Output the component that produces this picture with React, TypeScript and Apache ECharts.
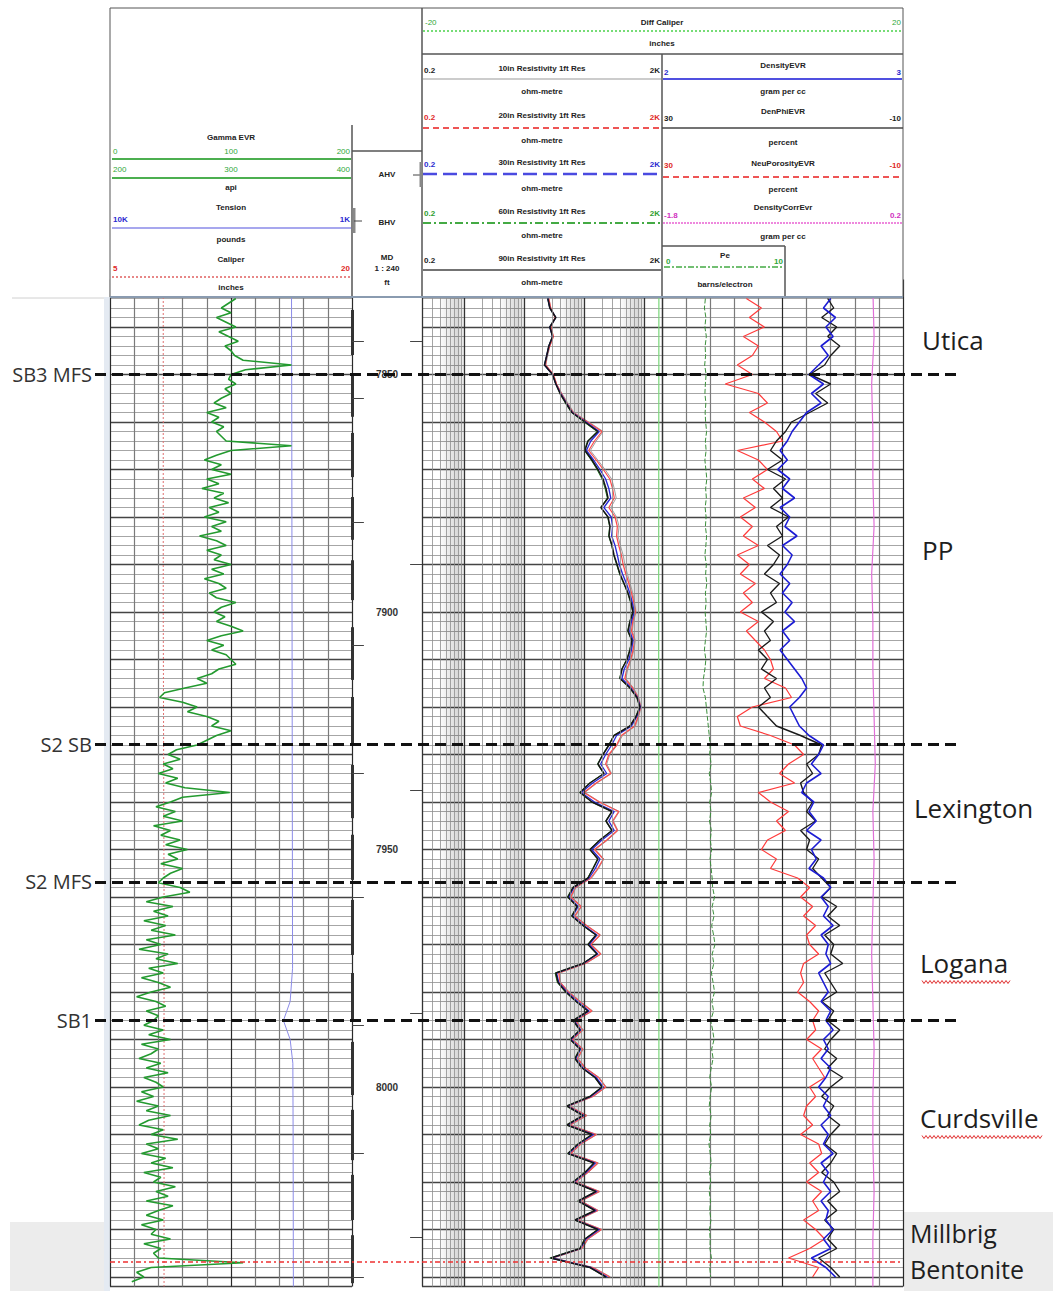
import React, { useEffect, useRef } from "react";
import * as echarts from "echarts";

// ---------------- DATA ----------------
const TOP_DEPTH = 7830;
const BOTTOM_DEPTH = 8042;

// Gamma ray (API), 1 ft step from 7834
const gammaStart = 7834;
const gammaStep = 1;
const gammaApi = [
  104, 98, 92, 100, 88, 96, 104, 90, 98, 106, 95, 100, 103, 110, 150, 112, 100,
  98, 104, 95, 100, 92, 86, 96, 80, 90, 84, 94, 88, 92, 96, 150, 100,
  88, 78, 92, 84, 100, 80, 90, 76, 94, 86, 98, 82, 90, 78, 96, 84, 92, 74, 88, 96,
  80, 92, 86, 100, 84, 94, 78, 90, 96, 82, 88, 104, 92, 86,
  95, 88, 100, 110, 92, 80, 94, 84, 96, 100, 104, 90, 84, 72, 80, 62, 45, 41, 60, 72, 64, 80,
  90, 84, 100, 88, 80, 72,
  55, 48, 58, 44, 52, 40, 56, 46, 62, 99, 60, 50, 38, 54, 44, 60, 36, 50, 42, 58, 46, 64, 48, 56, 42, 60, 50, 44,
  40, 58, 66, 44, 30, 52, 36, 48, 28, 46, 34, 54, 30, 42, 24, 48, 38, 56, 32, 44, 26, 40, 50, 34, 22, 38, 46, 30, 40, 36,
  28, 44, 32, 50, 26, 40, 34, 24, 42, 30, 48, 28, 38, 44, 26, 36, 22, 40, 30, 50,
  32, 24, 44, 34, 56, 30, 40, 26, 46, 34, 52, 28, 42, 36, 54, 38, 48, 30, 52, 40,
  30, 44, 26, 38, 34, 50, 28, 42, 36, 40, 110, 34, 22, 28, 18,
];

// Tension (pounds) and caliper (inches), irregular depths
const tensionDepths = [7832, 7860, 7900, 7940, 7975, 7982, 7986, 7990, 7995, 8010, 8042];
const tensionLbs = [3250, 3240, 3230, 3220, 3210, 3300, 3550, 3300, 3200, 3190, 3180];
const caliperDepths = [7832, 7900, 7960, 8042];
const caliperIn = [8.3, 8.3, 8.35, 8.35];
const diffCalDepths = [7832, 7900, 7960, 8042];
const diffCalIn = [-0.3, -0.32, -0.3, -0.3];

// Resistivity curves (ohm-m), 2 ft step from 7834
const logStart = 7834;
const logStep = 2;
const res10in = [
  26, 28, 34, 28, 31, 27, 25, 23, 31, 35, 43, 54, 68,
  120, 210, 160, 128, 170, 225, 290, 320, 345, 280, 350, 385, 370, 405, 450, 480, 530, 590, 650, 700,
  740, 670, 640, 720, 680, 620, 540, 500, 670, 820, 900, 820, 720, 440, 360,
  270, 240, 290, 165, 104, 186, 390, 310, 370, 250, 155, 215, 175, 135,
  74, 62, 92, 72, 112, 190, 134, 195, 108, 39, 41, 57, 88, 140, 74, 98, 66, 98, 80, 108,
  180, 236, 144, 58, 114, 60, 165, 90, 62, 175, 118, 74, 185, 90, 175, 80, 200, 118, 95, 31, 145, 280,
];
const res20in = [
  26, 28, 33, 28, 31, 27, 24, 23, 31, 35, 42, 52, 66,
  115, 200, 150, 120, 160, 210, 270, 300, 320, 260, 330, 360, 350, 380, 420, 450, 500, 560, 620, 680,
  720, 650, 620, 700, 660, 600, 520, 480, 650, 800, 880, 800, 700, 420, 350,
  260, 230, 280, 160, 100, 180, 380, 300, 360, 240, 150, 210, 170, 130,
  72, 60, 90, 70, 110, 185, 130, 190, 105, 38, 40, 55, 85, 135, 72, 95, 64, 95, 78, 105,
  175, 230, 140, 56, 110, 58, 160, 88, 60, 170, 115, 72, 180, 88, 170, 78, 195, 115, 92, 30, 140, 270,
];
const res30in = [
  25, 27, 34, 27, 30, 26, 24, 22, 30, 34, 41, 51, 64,
  108, 180, 130, 110, 145, 185, 230, 260, 280, 215, 285, 300, 290, 330, 360, 390, 440, 510, 580, 640,
  690, 620, 580, 660, 620, 560, 470, 430, 610, 780, 870, 760, 620, 350, 290,
  230, 190, 240, 140, 90, 150, 320, 260, 320, 200, 135, 185, 155, 122,
  68, 56, 80, 65, 100, 165, 122, 170, 98, 35, 38, 52, 78, 122, 68, 88, 61, 88, 73, 96,
  160, 210, 130, 54, 100, 54, 145, 82, 56, 155, 108, 68, 165, 82, 160, 73, 180, 108, 88, 29, 130, 245,
];
const res60in = [
  25, 27, 33, 27, 30, 26, 24, 22, 30, 34, 40, 49, 62,
  100, 165, 115, 102, 132, 165, 200, 225, 245, 190, 248, 268, 258, 290, 312, 350, 392, 460, 535, 600,
  650, 580, 535, 625, 580, 515, 425, 395, 580, 760, 850, 730, 580, 312, 258,
  205, 168, 212, 124, 85, 134, 290, 230, 290, 182, 124, 168, 140, 115,
  65, 53, 76, 62, 95, 157, 115, 163, 95, 33, 36, 49, 73, 115, 65, 85, 58, 85, 70, 92,
  151, 198, 124, 51, 95, 51, 134, 79, 53, 145, 102, 65, 157, 79, 151, 70, 169, 102, 85, 27, 124, 230,
];
const res90in = [
  25, 27, 34, 27, 30, 26, 24, 22, 30, 34, 40, 50, 63,
  104, 171, 117, 104, 136, 171, 208, 233, 252, 192, 252, 272, 262, 294, 317, 356, 399, 466, 542, 608,
  658, 586, 542, 632, 586, 522, 431, 399, 586, 766, 859, 738, 586, 317, 262,
  208, 171, 216, 126, 86, 136, 294, 233, 294, 185, 126, 171, 142, 117,
  66, 54, 77, 63, 96, 159, 117, 165, 96, 34, 37, 50, 74, 117, 66, 86, 59, 86, 71, 93,
  153, 200, 126, 52, 96, 52, 136, 80, 54, 147, 104, 66, 159, 80, 153, 71, 171, 104, 86, 28, 126, 233,
];

// Porosity / density track, 2 ft step from 7834
const neuPorosity = [
  16, 13.5, 15.5, 13, 16.5, 14, 15, 17.5, 15, 19.5, 14, 12.5, 15.5,
  13, 11, 10, 17.5, 14, 12.5, 15, 13, 16.5, 14.5, 17, 15, 16.5, 14, 17.5, 15.5, 17, 14.5, 16.5, 15,
  17, 14, 16, 14.5, 13, 12, 11.5, 13, 9.5, 8.5, 15, 17.5, 17, 12, 8,
  6.5, 9, 10.5, 8, 14, 12, 9, 11, 9.5, 12.5, 13.5, 11, 12, 7.5,
  5.5, 7, 5, 6.5, 4.5, 6, 5.5, 4, 6.5, 7, 6.5, 7.5, 5.5, 4, 5, 4.5, 6, 3.5, 5, 4,
  3, 5.5, 4.5, 6, 6.5, 5, 7, 4, 3.5, 5.5, 4, 6, 3.5, 5, 4, 6.5, 4.5, 3, 5.5, 9, 4, 5,
];
const denPhi = [
  2.5, 1.5, 3.5, 1, 2.5, 0.5, 2, 3, 5.5, 2, 4.5, 2.5, 5.5,
  8.5, 9.5, 11, 12, 10, 12.5, 9.5, 11.5, 10, 12, 9, 11, 10, 12.5, 10.5, 11.5, 13, 10.5, 12, 11,
  13.5, 11.5, 13, 12, 14, 12.5, 13.5, 11, 13, 12, 14, 12.5, 11, 7, 3.5,
  4, 6, 5, 7, 6.5, 5, 6, 4.5, 7, 5.5, 6, 4, 5, 3.5,
  2, 3.5, 1, 2.5, 0.5, 3, 1.5, 2, 0, 3, 2, 1, 3.5, 1.5, 2.5, 0.5, 2, 3, 1, 2.5,
  0, 2, 3.5, 1.5, 2.5, 0.5, 2, 3, 1, 2, 3.5, 1.5, 0.5, 2.5, 1, 3, 1.5, 2.5, 1, 4, 2, 0.5,
];
const densityGcc = [
  2.70, 2.67, 2.72, 2.68, 2.71, 2.66, 2.69, 2.65, 2.61, 2.67, 2.62, 2.66, 2.60,
  2.57, 2.54, 2.52, 2.49, 2.52, 2.48, 2.53, 2.50, 2.55, 2.49, 2.53, 2.51, 2.56, 2.50, 2.54, 2.52, 2.49, 2.53, 2.50, 2.54,
  2.51, 2.55, 2.50, 2.53, 2.49, 2.52, 2.55, 2.58, 2.60, 2.57, 2.53, 2.55, 2.57, 2.61, 2.67,
  2.65, 2.62, 2.66, 2.60, 2.58, 2.63, 2.61, 2.64, 2.60, 2.66, 2.62, 2.64, 2.61, 2.67,
  2.70, 2.66, 2.69, 2.67, 2.71, 2.66, 2.69, 2.68, 2.70, 2.65, 2.67, 2.69, 2.66, 2.70, 2.68, 2.71, 2.67, 2.69, 2.66, 2.70,
  2.68, 2.65, 2.69, 2.67, 2.70, 2.66, 2.69, 2.67, 2.71, 2.66, 2.69, 2.67, 2.70, 2.66, 2.69, 2.68, 2.71, 2.67, 2.70, 2.62, 2.68, 2.72,
];
const peBarns = [
  1.80, 1.76, 1.82, 1.78, 1.84, 1.79, 1.81, 1.77, 1.83, 1.80, 1.78, 1.82, 1.79,
  1.81, 1.85, 1.80, 1.83, 1.78, 1.82, 1.86, 1.81, 1.84, 1.79, 1.83, 1.80, 1.85, 1.82, 1.78, 1.84, 1.81, 1.86, 1.80, 1.83,
  1.79, 1.82, 1.85, 1.80, 1.76, 1.82, 1.78, 1.72, 1.70, 1.80, 1.84, 1.88, 1.92, 1.96, 2.00,
  1.98, 2.04, 1.96, 2.02, 2.06, 1.98, 2.03, 1.97, 2.05, 2.00, 2.06, 1.99, 2.04, 2.08,
  2.10, 2.18, 2.08, 2.16, 2.06, 2.14, 2.20, 2.08, 2.15, 2.05, 2.12, 2.18, 2.07, 2.14, 2.02, 2.10, 2.16, 2.06, 2.12, 2.04,
  1.98, 2.06, 2.00, 1.96, 2.04, 1.98, 2.02, 1.95, 2.00, 2.04, 1.97, 2.02, 1.96, 2.01, 1.98, 2.03, 1.97, 2.00, 1.99, 2.05, 1.98, 2.02,
];
const densCorrStart = 7832;
const densCorrStep = 10;
const densCorr = [-0.05, -0.04, -0.06, -0.05, -0.05, -0.04, -0.06, -0.05, -0.05, -0.04, -0.03, -0.05, -0.04, -0.05, -0.06, -0.05, -0.04, -0.05, -0.05, -0.04, -0.05, -0.05];

// Depth track annotations
const depthLabels = [7850, 7900, 7950, 8000];
const ihvSegments = [
  [7836.4, 7845.9], [7850.1, 7858.9], [7862.3, 7871.6], [7875.8, 7884.8], [7889.1, 7897.5],
  [7903.2, 7914.3], [7917.9, 7927.6], [7932.2, 7943.4], [7946.9, 7956.4], [7960.6, 7972.2],
  [7976.0, 7985.9], [7990.5, 8001.7], [8004.8, 8015.4], [8018.5, 8028.0], [8031.2, 8041.3],
];
const ihvTicks = [7843, 7855, 7881, 7907, 7934, 7960, 7987, 8014, 8040];
const bhvTicks = [7843, 7890, 7937.5, 7984.4, 8031.6];

// Formation tops
const topNames = ["SB3 MFS", "S2 SB", "S2 MFS", "SB1"];
const topDepths = [7850.0, 7927.8, 7956.8, 7985.9];
const bentoniteDepth = 8036.8;
const zoneNames = ["Utica", "PP", "Lexington", "Logana", "Curdsville", "Millbrig", "Bentonite"];

// log track grid values
const logMinor = [0.3, 0.4, 0.5, 0.6, 0.7, 0.8, 0.9, 2, 3, 4, 5, 6, 7, 8, 9, 20, 30, 40, 50, 60, 70, 80, 90, 200, 300, 400, 500, 600, 700, 800, 900];
const logMajor = [0.2, 1, 10, 100, 1000, 2000];
const logShade = [[0.38, 1], [3.8, 10], [38, 100], [380, 1000]];

// ---------------- HELPERS ----------------
const series2 = (vals: number[], start: number, step: number) =>
  vals.map((v, i) => [v, start + i * step]);
const pairs = (vals: number[], depths: number[]) => vals.map((v, i) => [v, depths[i]]);

const FONT = '"Liberation Sans", Arial, sans-serif';
const GREEN = "#2fa83a";
const BLUE = "#2a2ad0";
const RED = "#e02828";
const MAG = "#d030c0";

function T(text: string, x: number, y: number, o: any = {}) {
  const align = o.align || "center";
  return {
    type: "text",
    z: 101,
    x,
    y,
    style: {
      text,
      fill: o.fill || "#222",
      font: `${o.bold === false ? "" : "bold "}${o.size || 8}px ${o.family || FONT}`,
      textAlign: align,
      align,
      textVerticalAlign: "middle",
      verticalAlign: "middle",
    },
  };
}
function L(x1: number, y1: number, x2: number, y2: number, stroke = "#555", lineWidth = 1, lineDash?: number[]) {
  const style: any = { stroke, lineWidth };
  if (lineDash) style.lineDash = lineDash;
  return { type: "line", z: 101, shape: { x1, y1, x2, y2 }, style };
}

function buildHeader() {
  const els: any[] = [];
  // background bands
  els.push({ type: "rect", z: 0, shape: { x: 10, y: 1222, width: 94, height: 69 }, style: { fill: "#ececec" } });
  els.push({ type: "rect", z: 0, shape: { x: 904, y: 1212, width: 149, height: 79 }, style: { fill: "#ececec" } });
  els.push({ type: "rect", z: 0, shape: { x: 104, y: 297, width: 6, height: 994 }, style: { fill: "#e4eaf2" } });
  els.push(L(12, 298, 104, 298, "#d0d0d0", 1));

  // header panel
  els.push({ type: "rect", z: 100, shape: { x: 110, y: 8, width: 793, height: 289 }, style: { fill: "#fff", stroke: "#555", lineWidth: 1 } });

  // left column (gamma)
  const cx = 231;
  els.push(T("Gamma EVR", cx, 137));
  els.push(T("0", 113, 151, { fill: GREEN, align: "left", bold: false }));
  els.push(T("100", cx, 151, { fill: GREEN, bold: false }));
  els.push(T("200", 350, 151, { fill: GREEN, align: "right", bold: false }));
  els.push(L(112, 159, 351, 159, "#4caf50", 2));
  els.push(T("200", 113, 169, { fill: GREEN, align: "left", bold: false }));
  els.push(T("300", cx, 169, { fill: GREEN, bold: false }));
  els.push(T("400", 350, 169, { fill: GREEN, align: "right", bold: false }));
  els.push(L(112, 178, 351, 178, "#4caf50", 2));
  els.push(T("api", cx, 187));
  els.push(T("Tension", cx, 207));
  els.push(T("10K", 113, 219, { fill: BLUE, align: "left" }));
  els.push(T("1K", 350, 219, { fill: BLUE, align: "right" }));
  els.push(L(112, 228, 351, 228, "#8a8ae8", 1.5));
  els.push(T("pounds", cx, 239));
  els.push(T("Caliper", cx, 259));
  els.push(T("5", 113, 268, { fill: RED, align: "left" }));
  els.push(T("20", 350, 268, { fill: RED, align: "right" }));
  els.push(L(112, 277, 351, 277, "#e06060", 1.5, [2, 2]));
  els.push(T("inches", cx, 287));

  // depth column
  els.push(L(352, 125, 352, 297, "#555", 1.5));
  els.push(L(352, 151, 422, 151, "#555", 1.5));
  els.push(L(422, 8, 422, 297, "#555", 1.5));
  els.push(T("AHV", 387, 174));
  els.push(T("BHV", 387, 222));
  els.push(T("MD", 387, 257));
  els.push(T("1 : 240", 387, 268));
  els.push(T("ft", 387, 282));
  els.push(L(413, 175, 420, 175, "#444", 1));
  els.push(L(421, 162, 421, 187, "#888", 3));
  els.push(L(354, 208, 354, 233, "#888", 3));
  els.push(L(354, 221, 362, 221, "#444", 1));

  // diff caliper
  els.push(L(422, 54, 903, 54, "#555", 1.5));
  els.push(T("-20", 425, 22, { fill: GREEN, align: "left", bold: false }));
  els.push(T("Diff Caliper", 662, 22));
  els.push(T("20", 901, 22, { fill: GREEN, align: "right", bold: false }));
  els.push(L(423, 31, 902, 31, "#77dd77", 2, [2, 2]));
  els.push(T("inches", 662, 43));

  // resistivity column
  const rh = [
    { n: "10in Resistivity 1ft Res", c: "#222", ty: 69, ly: 79, lc: "#999", lw: 1, d: undefined, uy: 91 },
    { n: "20in Resistivity 1ft Res", c: RED, ty: 116, ly: 128, lc: "#ee5555", lw: 2, d: [6, 4], uy: 140 },
    { n: "30in Resistivity 1ft Res", c: BLUE, ty: 163, ly: 174, lc: "#4a4ae0", lw: 2.5, d: [14, 6], uy: 188 },
    { n: "60in Resistivity 1ft Res", c: "#2e9e2e", ty: 212, ly: 223, lc: "#44aa44", lw: 2, d: [8, 3, 2, 3], uy: 235 },
    { n: "90in Resistivity 1ft Res", c: "#222", ty: 259, ly: 270, lc: "#444", lw: 1.5, d: undefined, uy: 282 },
  ];
  rh.forEach((h) => {
    els.push(T("0.2", 424, h.ty + 1, { fill: h.c, align: "left" }));
    els.push(T(h.n, 542, h.ty - 1));
    els.push(T("2K", 660, h.ty + 1, { fill: h.c, align: "right" }));
    els.push(L(423, h.ly, 661, h.ly, h.lc, h.lw, h.d as any));
    els.push(T("ohm-metre", 542, h.uy));
  });

  // porosity / density column
  const c2 = 783;
  els.push(L(662, 54, 662, 297, "#555", 1.5));
  els.push(T("DensityEVR", c2, 65));
  els.push(T("2", 664, 72, { fill: BLUE, align: "left" }));
  els.push(T("3", 901, 72, { fill: BLUE, align: "right" }));
  els.push(L(663, 79, 902, 79, "#5050e0", 2));
  els.push(T("gram per cc", c2, 91));
  els.push(T("DenPhiEVR", c2, 111));
  els.push(T("30", 664, 118, { align: "left" }));
  els.push(T("-10", 901, 118, { align: "right" }));
  els.push(L(662, 128, 903, 128, "#444", 1.5));
  els.push(T("percent", c2, 142));
  els.push(T("NeuPorosityEVR", c2, 163));
  els.push(T("30", 664, 165, { fill: RED, align: "left" }));
  els.push(T("-10", 901, 165, { fill: RED, align: "right" }));
  els.push(L(663, 177, 902, 177, "#ee5555", 2, [6, 4]));
  els.push(T("percent", c2, 189));
  els.push(T("DensityCorrEvr", c2, 207));
  els.push(T("-1.8", 664, 215, { fill: MAG, align: "left" }));
  els.push(T("0.2", 901, 215, { fill: MAG, align: "right" }));
  els.push(L(663, 223, 902, 223, "#ee88dd", 2, [2, 1]));
  els.push(T("gram per cc", c2, 236));
  els.push(L(662, 246, 785, 246, "#555", 1.5));
  els.push(L(785, 246, 785, 297, "#555", 1.5));
  els.push(T("Pe", 725, 255));
  els.push(T("0", 666, 261, { fill: GREEN, align: "left" }));
  els.push(T("10", 783, 261, { fill: GREEN, align: "right" }));
  els.push(L(664, 267, 784, 267, "#44aa44", 1.5, [6, 2, 2, 2]));
  els.push(T("barns/electron", 725, 284));
  els.push(L(110, 297, 903, 297, "#8a9bb0", 2));

  // zone labels on the right
  const zonePos: [number, number][] = [[922, 340], [922, 550], [914, 808], [920, 963], [920, 1118], [910, 1233], [910, 1269]];
  zoneNames.forEach((n, i) => {
    els.push(T(n, zonePos[i][0], zonePos[i][1], { size: i >= 5 ? 25 : 26, bold: false, align: "left", family: '"Open Sans", sans-serif', fill: "#1e1e1e" }));
  });
  // spell-check squiggles
  const squiggle = (x0: number, x1: number, y: number) => {
    const pts: number[][] = [];
    for (let x = x0, k = 0; x <= x1; x += 2, k++) pts.push([x, y + (k % 2 ? 1.5 : -1.5)]);
    return { type: "polyline", z: 101, shape: { points: pts }, style: { stroke: "#e03030", lineWidth: 1, fill: "none" } };
  };
  els.push(squiggle(922, 1010, 982));
  els.push(squiggle(922, 1043, 1137));
  return els;
}

function buildOption() {
  const gTop = 279.5;
  const gH = 1007;
  const grids = [
    { left: 110, top: gTop, width: 242, height: gH },
    { left: 352, top: gTop, width: 70, height: gH },
    { left: 422, top: gTop, width: 240, height: gH },
    { left: 662, top: gTop, width: 241, height: gH },
    { left: 422, top: gTop, width: 481, height: gH },
    { left: 0, top: gTop, width: 1053, height: gH },
  ];
  const yAx = (gi: number, lines: boolean, labels = false) => ({
    type: "value",
    gridIndex: gi,
    inverse: true,
    min: TOP_DEPTH,
    max: BOTTOM_DEPTH,
    interval: 10,
    show: true,
    axisLine: { show: false },
    axisTick: { show: false },
    axisLabel: labels
      ? {
          show: true,
          inside: true,
          margin: 35,
          align: "center",
          fontSize: 10,
          fontWeight: "bold",
          fontFamily: FONT,
          color: "#333",
          formatter: (v: number) => (depthLabels.includes(v) ? String(v) : ""),
        }
      : { show: false },
    splitLine: { show: lines, lineStyle: { color: "#444", width: 1.3 } },
    minorTick: { show: false, splitNumber: 5 },
    minorSplitLine: { show: lines, lineStyle: { color: "#9c9c9c", width: 0.9 } },
  });
  const hiddenX = (gi: number, min: number, max: number, inverse = false) => ({
    type: "value", gridIndex: gi, min, max, inverse, show: false,
  });
  const edgeColors = ["#2a2a2a", "#7a7a7a", "#7a7a7a", "#7a7a7a", "#7a7a7a"];
  const xAxes: any[] = [
    // 0 gamma
    { type: "value", gridIndex: 0, min: 0, max: 200, interval: 20, show: true, axisLine: { show: false }, axisTick: { show: false }, axisLabel: { show: false }, splitLine: { show: true, lineStyle: { color: edgeColors, width: 1.2 } } },
    hiddenX(0, 1000, 10000, true), // 1 tension
    hiddenX(0, 5, 20), // 2 caliper
    hiddenX(1, 0, 1), // 3 depth track
    { type: "log", gridIndex: 2, min: 0.2, max: 2000, logBase: 10, show: false }, // 4 resistivity
    { type: "value", gridIndex: 3, min: 0, max: 10, interval: 1, show: true, axisLine: { show: false }, axisTick: { show: false }, axisLabel: { show: false }, splitLine: { show: true, lineStyle: { color: edgeColors, width: 1.2 } } }, // 5 Pe / grid
    hiddenX(3, -10, 30, true), // 6 porosity
    hiddenX(3, 2, 3), // 7 density
    hiddenX(3, -1.8, 0.2), // 8 density corr
    hiddenX(4, -20, 20), // 9 diff caliper
    hiddenX(5, 0, 1053), // 10 overlay
  ];
  const yAxes = [yAx(0, true), yAx(1, false, true), yAx(2, true), yAx(3, true), yAx(4, false), yAx(5, false)];

  const curve = (name: string, xi: number, yi: number, data: any[], color: string, width: number, type: any = "solid", z = 3) => ({
    name, type: "line", xAxisIndex: xi, yAxisIndex: yi, data, symbol: "none", showSymbol: false, silent: true, z,
    lineStyle: { color, width, type },
  });

  const series: any[] = [];
  // log-track grid lines and shading
  series.push({
    type: "line", xAxisIndex: 4, yAxisIndex: 2, data: [], silent: true, z: 1,
    markArea: {
      silent: true,
      data: logShade.map((s) => [
        { xAxis: s[0], itemStyle: { color: { type: "linear", x: 0, y: 0, x2: 1, y2: 0, colorStops: [{ offset: 0, color: "rgba(0,0,0,0)" }, { offset: 0.75, color: "rgba(0,0,0,0.15)" }, { offset: 1, color: "rgba(0,0,0,0.06)" }] } } },
        { xAxis: s[1] },
      ]),
    },
    markLine: {
      silent: true, symbol: ["none", "none"], label: { show: false }, animation: false,
      data: [
        ...logMinor.map((v) => ({ xAxis: v, lineStyle: { color: "#8e8e8e", width: 0.8, type: "solid" } })),
        ...logMajor.map((v) => ({ xAxis: v, lineStyle: { color: "#333", width: 1.3, type: "solid" } })),
      ],
    },
  });

  // track 1
  series.push(curve("Caliper", 2, 0, pairs(caliperIn, caliperDepths), "#e07070", 1, [2, 2]));
  series.push(curve("Tension", 1, 0, pairs(tensionLbs, tensionDepths), "#8c8ce8", 1));
  series.push(curve("Gamma EVR", 0, 0, series2(gammaApi, gammaStart, gammaStep), "#239a2f", 1.6));

  // depth track IHV marks
  series.push({
    type: "line", xAxisIndex: 3, yAxisIndex: 1, data: [], silent: true, clip: false, z: 3,
    markLine: {
      silent: true, symbol: ["none", "none"], label: { show: false }, animation: false,
      data: [
        ...ihvSegments.map((s) => [{ coord: [0, s[0]], lineStyle: { color: "#333", width: 3, type: "solid" } }, { coord: [0, s[1]] }]),
        ...ihvTicks.map((d) => [{ coord: [0, d], lineStyle: { color: "#444", width: 1, type: "solid" } }, { coord: [0.17, d] }]),
        ...bhvTicks.map((d) => [{ coord: [0.83, d], lineStyle: { color: "#444", width: 1, type: "solid" } }, { coord: [1, d] }]),
      ],
    },
  });

  // track 2 resistivity
  series.push(curve("10in", 4, 2, series2(res10in, logStart, logStep), "#a0a0a0", 1));
  series.push(curve("60in", 4, 2, series2(res60in, logStart, logStep), "#2a8a2a", 1));
  series.push(curve("20in", 4, 2, series2(res20in, logStart, logStep), "#ff4a4a", 1.2));
  series.push(curve("30in", 4, 2, series2(res30in, logStart, logStep), "#2828d8", 1.3));
  series.push(curve("90in", 4, 2, series2(res90in, logStart, logStep), "#151515", 1.5));

  // diff caliper
  series.push(curve("Diff Caliper", 9, 4, pairs(diffCalIn, diffCalDepths), "#7ad67a", 1.2));

  // track 3
  series.push(curve("Pe", 5, 3, series2(peBarns, logStart, logStep), "#3c8f3c", 1, [5, 2]));
  series.push(curve("DensityCorr", 8, 3, series2(densCorr, densCorrStart, densCorrStep), "#e070d8", 1.2));
  series.push(curve("NeuPorosity", 6, 3, series2(neuPorosity, logStart, logStep), "#ff3a3a", 1.2));
  series.push(curve("DenPhi", 6, 3, series2(denPhi, logStart, logStep), "#1a1a1a", 1.4));
  series.push(curve("Density", 7, 3, series2(densityGcc, logStart, logStep), "#1c1cd4", 1.6));

  // formation tops overlay
  series.push({
    type: "line", xAxisIndex: 10, yAxisIndex: 5, data: [], silent: true, z: 10,
    markLine: {
      silent: true, symbol: ["none", "none"], animation: false,
      label: { show: true, position: "start", formatter: "{b}", fontSize: 20, fontFamily: '"Open Sans", sans-serif', color: "#333", distance: 3 },
      data: [
        ...topNames.map((n, i) => [
          { name: n, coord: [95, topDepths[i]], lineStyle: { color: "#111", width: 3, type: [11, 6] } },
          { coord: [957, topDepths[i]] },
        ]),
        [
          { name: "", coord: [110, bentoniteDepth], lineStyle: { color: "#ee3030", width: 1.5, type: [5, 3, 2, 3] }, label: { show: false } },
          { coord: [900, bentoniteDepth] },
        ],
      ],
    },
  });

  return {
    animation: false,
    backgroundColor: "#fff",
    grid: grids,
    xAxis: xAxes,
    yAxis: yAxes,
    series,
    graphic: { elements: buildHeader() },
  };
}

export default function App() {
  const ref = useRef<HTMLDivElement>(null);
  useEffect(() => {
    if (!ref.current) return;
    const chart = echarts.init(ref.current, null, { renderer: "svg" });
    chart.setOption(buildOption() as any);
    return () => chart.dispose();
  }, []);
  return <div ref={ref} style={{ position: "fixed", left: 0, top: 0, width: 1053, height: 1291 }} />;
}
